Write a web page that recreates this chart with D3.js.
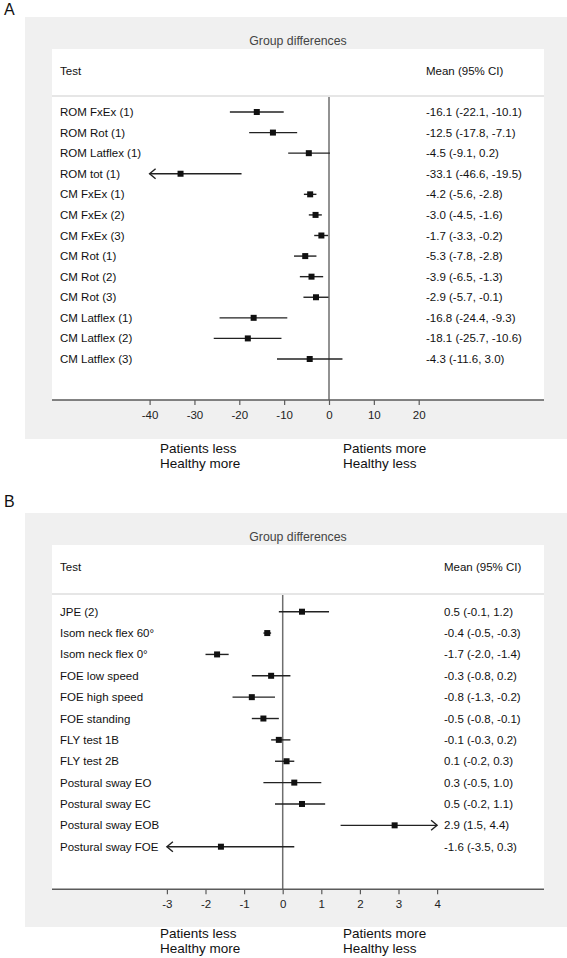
<!DOCTYPE html>
<html>
<head>
<meta charset="utf-8">
<script src="https://cdn.jsdelivr.net/npm/d3@7"></script>
<style>
  html, body { margin: 0; padding: 0; background: #ffffff; }
  svg { display: block; font-family: "Liberation Sans", Arial, Helvetica, sans-serif; }
</style>
</head>
<body>
<svg id="chart" width="567" height="958"></svg>
<script>
// ---------- Panel A data ----------
const testsA = ["ROM FxEx (1)", "ROM Rot (1)", "ROM Latflex (1)", "ROM tot (1)",
  "CM FxEx (1)", "CM FxEx (2)", "CM FxEx (3)", "CM Rot (1)", "CM Rot (2)", "CM Rot (3)",
  "CM Latflex (1)", "CM Latflex (2)", "CM Latflex (3)"];
const meanA = [-16.1, -12.5, -4.5, -33.1, -4.2, -3.0, -1.7, -5.3, -3.9, -2.9, -16.8, -18.1, -4.3];
const lowA  = [-22.1, -17.8, -9.1, -46.6, -5.6, -4.5, -3.3, -7.8, -6.5, -5.7, -24.4, -25.7, -11.6];
const highA = [-10.1, -7.1, 0.2, -19.5, -2.8, -1.6, -0.2, -2.8, -1.3, -0.1, -9.3, -10.6, 3.0];
const ticksA = [-40, -30, -20, -10, 0, 10, 20];

// ---------- Panel B data ----------
const testsB = ["JPE (2)", "Isom neck flex 60°", "Isom neck flex 0°", "FOE low speed",
  "FOE high speed", "FOE standing", "FLY test 1B", "FLY test 2B",
  "Postural sway EO", "Postural sway EC", "Postural sway EOB", "Postural sway FOE"];
const meanB = [0.5, -0.4, -1.7, -0.3, -0.8, -0.5, -0.1, 0.1, 0.3, 0.5, 2.9, -1.6];
const lowB  = [-0.1, -0.5, -2.0, -0.8, -1.3, -0.8, -0.3, -0.2, -0.5, -0.2, 1.5, -3.5];
const highB = [1.2, -0.3, -1.4, 0.2, -0.2, -0.1, 0.2, 0.3, 1.0, 1.1, 4.4, 0.3];
const ticksB = [-3, -2, -1, 0, 1, 2, 3, 4];

const panelTitle = "Group differences";
const colHeadLeft = "Test";
const colHeadRight = "Mean (95% CI)";
const leftNote = ["Patients less", "Healthy more"];
const rightNote = ["Patients more", "Healthy less"];

const svg = d3.select("#chart");
const fmt = v => v.toFixed(1);

function drawPanel(cfg) {
  const g = svg.append("g").attr("transform", `translate(0,${cfg.top})`);
  // panel letter
  g.append("text").attr("x", 4).attr("y", cfg.letterY).attr("font-size", 16)
    .attr("fill", "#111").text(cfg.letter);
  // grey background
  g.append("rect").attr("x", 25).attr("y", 17).attr("width", 542).attr("height", cfg.grayH)
    .attr("fill", "#f0f0f0");
  // white box
  g.append("rect").attr("x", 52).attr("y", 49).attr("width", 492).attr("height", cfg.axisY - 49)
    .attr("fill", "#ffffff");
  // title
  g.append("text").attr("x", 298).attr("y", 41).attr("text-anchor", "middle")
    .attr("dy", "0.35em").attr("font-size", 12.3).attr("fill", "#444").text(panelTitle);
  // header
  g.append("text").attr("x", 60).attr("y", 71).attr("dy", "0.35em").attr("font-size", 11.5)
    .attr("fill", "#111").text(colHeadLeft);
  g.append("text").attr("x", cfg.ciX).attr("y", 71).attr("dy", "0.35em").attr("font-size", 11.5)
    .attr("fill", "#111").text(colHeadRight);
  // separator
  g.append("line").attr("x1", 52).attr("x2", 544).attr("y1", cfg.sepY).attr("y2", cfg.sepY)
    .attr("stroke", "#e6e6e6").attr("stroke-width", 2);

  const x = d3.scaleLinear().domain(cfg.domain).range(cfg.range);
  const y = d3.scalePoint().domain(cfg.tests).range(cfg.rowRange);

  // zero line
  g.append("line").attr("x1", x(0)).attr("x2", x(0)).attr("y1", cfg.sepY + 1).attr("y2", cfg.axisY)
    .attr("stroke", "#6e6e6e").attr("stroke-width", 1.5);

  // axis
  g.append("line").attr("x1", 52).attr("x2", 544).attr("y1", cfg.axisY).attr("y2", cfg.axisY)
    .attr("stroke", "#5a5a5a").attr("stroke-width", 1.5);
  const ax = g.append("g").attr("transform", `translate(0,${cfg.axisY})`)
    .call(d3.axisBottom(x).tickValues(cfg.ticks).tickSize(5).tickSizeOuter(0)
      .tickPadding(6).tickFormat(d => String(d)));
  ax.select(".domain").remove();
  ax.selectAll(".tick line").attr("stroke", "#5a5a5a").attr("stroke-width", 1.2);
  ax.selectAll(".tick text").attr("font-size", 11.5).attr("fill", "#222")
    .attr("font-family", "Liberation Sans, Arial, sans-serif");

  const [dMin, dMax] = cfg.domain;
  cfg.tests.forEach((t, i) => {
    const yy = y(t);
    g.append("text").attr("x", 60).attr("y", yy).attr("dy", "0.35em").attr("font-size", 11.5)
      .attr("fill", "#111").text(t);
    g.append("text").attr("x", cfg.ciX).attr("y", yy).attr("dy", "0.35em").attr("font-size", 11.5)
      .attr("fill", "#111")
      .text(`${fmt(cfg.mean[i])} (${fmt(cfg.low[i])}, ${fmt(cfg.high[i])})`);
    const lo = Math.max(cfg.low[i], dMin), hi = Math.min(cfg.high[i], dMax);
    g.append("line").attr("x1", x(lo)).attr("x2", x(hi)).attr("y1", yy).attr("y2", yy)
      .attr("stroke", "#222").attr("stroke-width", 1.4);
    if (cfg.low[i] < dMin) {
      const tx = x(dMin);
      g.append("path").attr("d", `M${tx + 6},${yy - 5}L${tx},${yy}L${tx + 6},${yy + 5}`)
        .attr("fill", "none").attr("stroke", "#222").attr("stroke-width", 1.4);
    }
    if (cfg.high[i] > dMax) {
      const tx = x(dMax);
      g.append("path").attr("d", `M${tx - 6},${yy - 5}L${tx},${yy}L${tx - 6},${yy + 5}`)
        .attr("fill", "none").attr("stroke", "#222").attr("stroke-width", 1.4);
    }
    g.append("rect").attr("x", x(cfg.mean[i]) - 3).attr("y", yy - 3).attr("width", 6).attr("height", 6)
      .attr("fill", "#111");
  });

  // notes below
  [leftNote, rightNote].forEach((lines, k) => {
    lines.forEach((s, j) => {
      g.append("text").attr("x", k === 0 ? 160 : 343).attr("y", cfg.noteY + j * 15.3)
        .attr("dy", "0.35em").attr("font-size", 13.5).attr("fill", "#111").text(s);
    });
  });
}

drawPanel({
  top: 0, letter: "A", letterY: 15, grayH: 422, sepY: 96, axisY: 400, ciX: 426,
  tests: testsA, mean: meanA, low: lowA, high: highA, ticks: ticksA,
  domain: [-40, 20], range: [149.6, 418.7], rowRange: [112, 359], noteY: 448
});
drawPanel({
  top: 496, letter: "B", letterY: 11, grayH: 414, sepY: 98, axisY: 393.3, ciX: 444,
  tests: testsB, mean: meanB, low: lowB, high: highB, ticks: ticksB,
  domain: [-3, 4], range: [166.9, 437.1], rowRange: [115.7, 350.7], noteY: 437.2
});
</script>
</body>
</html>
